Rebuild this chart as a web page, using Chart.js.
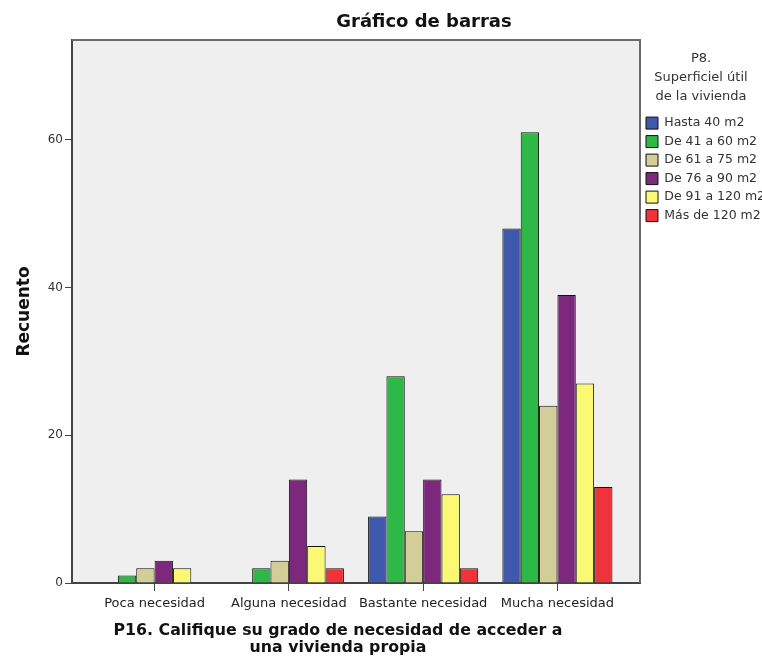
<!DOCTYPE html>
<html>
<head>
<meta charset="utf-8">
<script src="https://cdn.jsdelivr.net/npm/chart.js@4.4.1/dist/chart.umd.min.js"></script>
<style>
  html, body { margin: 0; padding: 0; background: #fff; }
  #wrap { width: 762px; height: 662px; position: relative; }
</style>
</head>
<body>
<div id="wrap"><canvas id="myChart"></canvas></div>
<script>
const categories = ["Poca necesidad", "Alguna necesidad", "Bastante necesidad", "Mucha necesidad"];
const seriesNames = ["Hasta 40 m2", "De 41 a 60 m2", "De 61 a 75 m2", "De 76 a 90 m2", "De 91 a 120 m2", "Más de 120 m2"];
const hasta40 = [0, 0, 9, 48];
const de41a60 = [1, 2, 28, 61];
const de61a75 = [2, 3, 7, 24];
const de76a90 = [3, 14, 14, 39];
const de91a120 = [2, 5, 12, 27];
const mas120 = [0, 2, 2, 13];
const yTicks = [0, 20, 40, 60];

const seriesValues = [hasta40, de41a60, de61a75, de76a90, de91a120, mas120];
const colors = ["#3e58ac", "#2eb848", "#d3ce97", "#7c287d", "#fbf873", "#ef3338"];
const fontFamily = "'DejaVu Sans', Verdana, sans-serif";

const datasets = seriesNames.map((name, i) => ({
  label: name,
  data: seriesValues[i].map((v, j) => ({ x: j, y: v })),
  backgroundColor: colors[i],
  borderColor: "#111",
  borderWidth: 1,
  categoryPercentage: 0.82,
  barPercentage: 1,
}));

// plot background, frame and the free-standing titles
const plotFrame = {
  id: "plotFrame",
  beforeDraw(chart) {
    const { ctx, chartArea: a } = chart;
    ctx.save();
    ctx.fillStyle = "#efefef";
    ctx.fillRect(a.left, a.top, a.right - a.left, a.bottom - a.top);
    ctx.restore();
  },
  beforeDatasetsDraw(chart) {
    const { ctx, chartArea: a } = chart;
    ctx.save();
    ctx.strokeStyle = "#6a6a6a";
    ctx.lineWidth = 2;
    ctx.beginPath();
    ctx.moveTo(a.left, a.top);
    ctx.lineTo(a.right, a.top);
    ctx.lineTo(a.right, a.bottom);
    ctx.stroke();
    ctx.restore();
  },
  afterDraw(chart) {
    const { ctx } = chart;
    ctx.save();
    ctx.fillStyle = "#111";
    ctx.textAlign = "center";
    ctx.textBaseline = "middle";
    ctx.font = "bold 18px " + fontFamily;
    ctx.fillText("Gráfico de barras", 424, 22);
    ctx.font = "bold 15.8px " + fontFamily;
    ctx.fillText("P16. Califique su grado de necesidad de acceder a", 338, 631);
    ctx.fillText("una vivienda propia", 338, 648);
    ctx.restore();
  },
};

const config = {
  type: "bar",
  data: { datasets: datasets },
  options: {
    responsive: true,
    maintainAspectRatio: false,
    animation: false,
    layout: { padding: { top: 40, left: 0, right: 0, bottom: 0 } },
    scales: {
      x: {
        type: "linear",
        min: -0.615,
        max: 3.615,
        offset: false,
        afterFit: (scale) => { scale.height = 79; },
        grid: { offset: false, drawOnChartArea: false, tickLength: 8, color: "#444", lineWidth: 1 },
        border: { color: "#444", width: 2 },
        ticks: {
          stepSize: 1,
          autoSkip: false,
          maxRotation: 0,
          padding: 5,
          color: "#222",
          font: { family: fontFamily, size: 13 },
          callback: (v) => (Number.isInteger(v) && categories[v] !== undefined ? categories[v] : null),
        },
      },
      y: {
        min: 0,
        max: 73.5,
        afterFit: (scale) => { scale.width = 72; },
        grid: { drawOnChartArea: false, tickLength: 7, color: "#444", lineWidth: 1 },
        border: { color: "#444", width: 2 },
        ticks: {
          stepSize: 20,
          padding: 2,
          color: "#333",
          font: { family: fontFamily, size: 12 },
          callback: (v) => (yTicks.includes(v) ? v : null),
        },
        title: {
          display: true,
          text: "Recuento",
          color: "#111",
          font: { family: fontFamily, size: 17, weight: "bold" },
          padding: { top: 14, bottom: 0 },
        },
      },
    },
    plugins: {
      tooltip: { enabled: false },
      legend: {
        position: "right",
        align: "start",
        maxWidth: 122,
        title: {
          display: true,
          text: ["P8.", "Superficiel útil", "de la vivienda"],
          color: "#333",
          font: { family: fontFamily, size: 13, lineHeight: 1.45 },
          padding: { top: 12.5, bottom: 39.5 },
        },
        labels: {
          boxWidth: 12,
          boxHeight: 12,
          padding: 6,
          color: "#333",
          font: { family: fontFamily, size: 12.5 },
        },
      },
    },
  },
  plugins: [plotFrame],
};

window.addEventListener("DOMContentLoaded", () => {
  const ctx = document.getElementById("myChart");
  new Chart(ctx, config);
});
</script>
</body>
</html>
